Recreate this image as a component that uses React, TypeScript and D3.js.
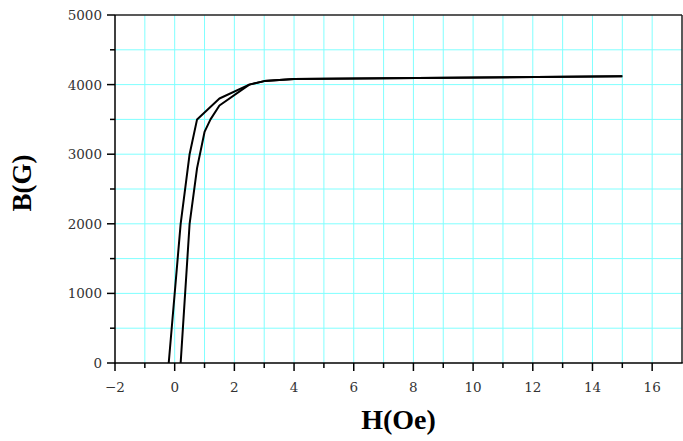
import React from "react";
import * as d3 from "d3";

const upperH = [-0.2, 0.2, 0.5, 0.75, 1.5, 2.5, 3, 4, 15];
const upperB = [0, 2000, 3000, 3500, 3800, 4000, 4050, 4080, 4120];
const lowerH = [0.2, 0.5, 0.75, 1.0, 1.2, 1.5, 2.5, 3, 4, 15];
const lowerB = [0, 2000, 2800, 3320, 3500, 3700, 4000, 4050, 4080, 4120];

const xMajorTicks = [-2, 0, 2, 4, 6, 8, 10, 12, 14, 16];
const xMinorTicks = [-1, 1, 3, 5, 7, 9, 11, 13, 15];
const xGrid = [-1, 0, 1, 2, 3, 4, 5, 6, 7, 8, 9, 10, 11, 12, 13, 14, 15, 16];
const yMajorTicks = [0, 1000, 2000, 3000, 4000, 5000];
const yMinorTicks = [500, 1500, 2500, 3500, 4500];
const yGrid = [500, 1000, 1500, 2000, 2500, 3000, 3500, 4000, 4500];

const W = 683;
const H = 441;
const L = 115, R = 682, T = 15, B = 363;

export default function App() {
  const x = d3.scaleLinear().domain([-2, 17]).range([L, R]);
  const y = d3.scaleLinear().domain([0, 5000]).range([B, T]);
  const line = d3
    .line<[number, number]>()
    .x((d) => x(d[0]))
    .y((d) => y(d[1]));
  const up = upperH.map((h, i) => [h, upperB[i]] as [number, number]);
  const lo = lowerH.map((h, i) => [h, lowerB[i]] as [number, number]);
  const fmt = (v: number) => (v < 0 ? "\u2212" + Math.abs(v) : String(v));
  const tickFont = "'DejaVu Serif', serif";
  return (
    <div style={{ position: "absolute", left: 0, top: 0 }}>
      <svg width={W} height={H} style={{ display: "block" }}>
        <rect x={0} y={0} width={W} height={H} fill="#fff" />
        {xGrid.map((v) => (
          <line key={"gx" + v} x1={x(v)} x2={x(v)} y1={T} y2={B} stroke="#80ffff" strokeWidth={1} />
        ))}
        {yGrid.map((v) => (
          <line key={"gy" + v} x1={L} x2={R} y1={y(v)} y2={y(v)} stroke="#80ffff" strokeWidth={1} />
        ))}
        <path d={line(up) || ""} fill="none" stroke="#000" strokeWidth={2} strokeLinejoin="round" />
        <path d={line(lo) || ""} fill="none" stroke="#000" strokeWidth={2} strokeLinejoin="round" />
        <line x1={L} x2={R} y1={T} y2={T} stroke="#222" strokeWidth={1.5} />
        <line x1={R} x2={R} y1={T} y2={B} stroke="#222" strokeWidth={1.5} />
        <line x1={L} x2={R + 0.75} y1={B} y2={B} stroke="#000" strokeWidth={1.5} />
        <line x1={L} x2={L} y1={T} y2={B + 0.75} stroke="#000" strokeWidth={1.5} />
        {xMajorTicks.map((v) => (
          <g key={"xt" + v}>
            <line x1={x(v)} x2={x(v)} y1={B} y2={B + 8} stroke="#000" strokeWidth={1.5} />
            <text x={x(v)} y={392} textAnchor="middle" fontFamily={tickFont} fontSize={13.5} fill="#333">
              {fmt(v)}
            </text>
          </g>
        ))}
        {xMinorTicks.map((v) => (
          <line key={"xm" + v} x1={x(v)} x2={x(v)} y1={B} y2={B + 5} stroke="#000" strokeWidth={1.5} />
        ))}
        {yMajorTicks.map((v) => (
          <g key={"yt" + v}>
            <line x1={L - 8} x2={L} y1={y(v)} y2={y(v)} stroke="#000" strokeWidth={1.5} />
            <text x={102} y={y(v) + 5} textAnchor="end" fontFamily={tickFont} fontSize={13.5} fill="#333">
              {fmt(v)}
            </text>
          </g>
        ))}
        {yMinorTicks.map((v) => (
          <line key={"ym" + v} x1={L - 5} x2={L} y1={y(v)} y2={y(v)} stroke="#000" strokeWidth={1.5} />
        ))}
        <text
          x={(L + R) / 2}
          y={429}
          textAnchor="middle"
          fontFamily="'Liberation Serif', serif"
          fontWeight="bold"
          fontSize={28}
          fill="#000"
        >
          H(Oe)
        </text>
        <text
          transform={`translate(31,${183}) rotate(-90)`}
          textAnchor="middle"
          fontFamily="'Liberation Serif', serif"
          fontWeight="bold"
          fontSize={27}
          fill="#000"
        >
          B(G)
        </text>
      </svg>
    </div>
  );
}
